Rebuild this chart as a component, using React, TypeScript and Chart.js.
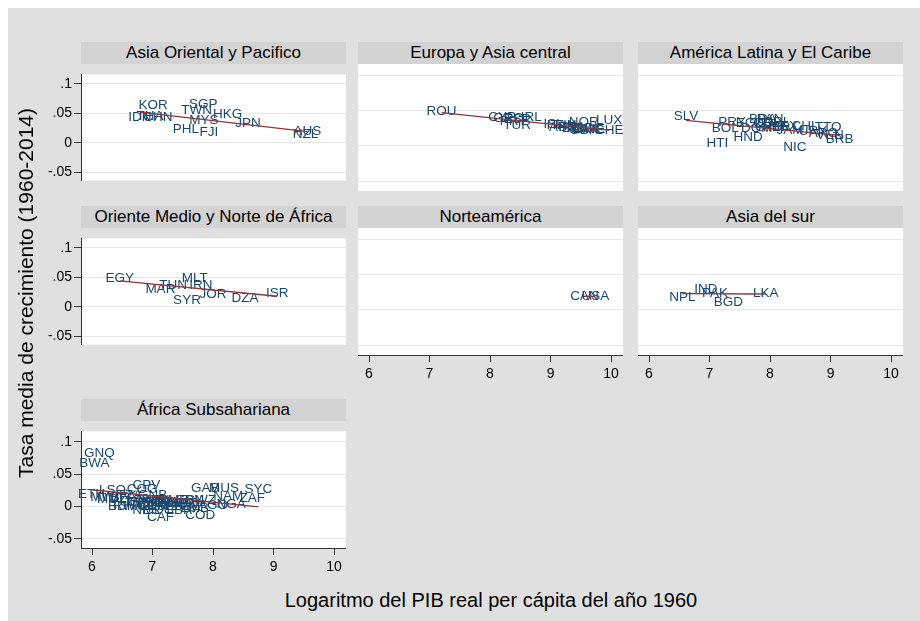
import React, { useEffect, useRef } from "react";
import { Chart, registerables } from "chart.js";
Chart.register(...registerables);

// ---------- axis ticks ----------
const xTickValues = [6, 7, 8, 9, 10];
const xTickLabels = ["6", "7", "8", "9", "10"];
const yTickValues = [-0.05, 0, 0.05, 0.1];
const yTickLabels = ["-.05", "0", ".05", ".1"];

// ---------- Asia Oriental y Pacifico ----------
const eapCodes = ["KOR", "IDN", "THA", "CHN", "SGP", "TWN", "MYS", "HKG", "PHL", "FJI", "JPN", "AUS", "NZL"];
const eapX = [7.01, 6.79, 6.96, 7.09, 7.84, 7.73, 7.85, 8.24, 7.55, 7.93, 8.58, 9.56, 9.53];
const eapY = [0.063, 0.044, 0.045, 0.044, 0.065, 0.055, 0.038, 0.049, 0.0225, 0.018, 0.034, 0.019, 0.014];
const eapFitX = [6.79, 9.56];
const eapFitY = [0.052, 0.019];

// ---------- Europa y Asia central ----------
const ecaCodes = ["ROU", "CYP", "GRC", "ESP", "PRT", "IRL", "TUR", "ISL", "ITA", "AUT", "FIN", "FRA", "BEL", "NLD", "GBR", "DNK", "SWE", "NOR", "LUX", "CHE"];
const ecaX = [7.2, 8.2, 8.3, 8.45, 8.38, 8.68, 8.45, 9.05, 9.1, 9.2, 9.25, 9.35, 9.4, 9.5, 9.55, 9.6, 9.65, 9.55, 9.97, 9.97];
const ecaY = [0.049, 0.04, 0.039, 0.038, 0.035, 0.04, 0.029, 0.03, 0.029, 0.027, 0.029, 0.026, 0.025, 0.025, 0.022, 0.024, 0.023, 0.033, 0.036, 0.022];
const ecaFitX = [7.2, 9.97];
const ecaFitY = [0.047, 0.022];

// ---------- América Latina y El Caribe ----------
const lacCodes = ["SLV", "HTI", "BOL", "PRY", "HND", "ECU", "DOM", "BRA", "COL", "PAN", "GTM", "CRI", "PER", "MEX", "JAM", "NIC", "CHL", "URY", "ARG", "TTO", "VEN", "BRB"];
const lacX = [6.61, 7.13, 7.26, 7.37, 7.64, 7.67, 7.78, 7.88, 7.95, 8.0, 8.0, 8.08, 8.11, 8.22, 8.33, 8.41, 8.58, 8.71, 8.88, 8.96, 8.99, 9.15];
const lacY = [0.042, 0.003, 0.025, 0.034, 0.012, 0.032, 0.025, 0.037, 0.032, 0.038, 0.027, 0.034, 0.026, 0.028, 0.022, -0.002, 0.028, 0.02, 0.018, 0.027, 0.015, 0.009];
const lacFitX = [6.61, 9.15];
const lacFitY = [0.036, 0.015];

// ---------- Oriente Medio y Norte de África ----------
const menaCodes = ["EGY", "MAR", "TUN", "SYR", "MLT", "IRN", "JOR", "DZA", "ISR"];
const menaX = [6.46, 7.13, 7.34, 7.57, 7.7, 7.8, 8.0, 8.53, 9.06];
const menaY = [0.049, 0.029, 0.037, 0.011, 0.049, 0.036, 0.022, 0.014, 0.023];
const menaFitX = [6.46, 9.06];
const menaFitY = [0.044, 0.018];

// ---------- Norteamérica ----------
const naCodes = ["CAN", "USA"];
const naX = [9.56, 9.74];
const naY = [0.019, 0.019];
const naFitX = [9.56, 9.74];
const naFitY = [0.0195, 0.019];

// ---------- Asia del sur ----------
const sasCodes = ["NPL", "IND", "PAK", "BGD", "LKA"];
const sasX = [6.55, 6.94, 7.09, 7.31, 7.93];
const sasY = [0.018, 0.029, 0.023, 0.011, 0.023];
const sasFitX = [6.55, 7.93];
const sasFitY = [0.023, 0.0225];

// ---------- África Subsahariana ----------
const ssaCodes = ["GNQ", "BWA", "ETH", "LSO", "MWI", "MOZ", "MLI", "BFA", "BDI", "RWA", "UGA", "TZA", "GIN", "NER", "TCD", "COM", "MDG", "TGO", "GMB", "KEN", "BEN", "GHA", "COG", "CPV", "GNB", "SEN", "SLE", "CAF", "CMR", "LBR", "CIV", "MRT", "ZWE", "ZMB", "SDN", "COD", "SWZ", "AGO", "NGA", "GAB", "MUS", "NAM", "ZAF", "SYC"];
const ssaX = [6.12, 6.04, 5.99, 6.34, 6.2, 6.33, 6.45, 6.52, 6.45, 6.6, 6.7, 6.62, 6.78, 6.9, 6.85, 7.0, 7.1, 6.95, 6.97, 7.05, 7.12, 7.2, 6.83, 6.9, 7.0, 7.3, 7.28, 7.13, 7.35, 7.45, 7.6, 7.5, 7.55, 7.7, 7.62, 7.79, 7.8, 8.0, 8.3, 7.87, 8.18, 8.25, 8.65, 8.75];
const ssaY = [0.082, 0.067, 0.019, 0.025, 0.014, 0.012, 0.013, 0.015, 0.0, 0.0, 0.007, 0.017, 0.007, -0.005, 0.002, 0.0, -0.005, 0.005, 0.01, 0.01, 0.006, 0.007, 0.026, 0.033, 0.018, 0.0, 0.005, -0.016, 0.01, -0.005, 0.003, 0.005, 0.0, -0.002, 0.01, -0.013, 0.01, 0.002, 0.003, 0.029, 0.028, 0.016, 0.013, 0.026];
const ssaFitX = [5.99, 8.75];
const ssaFitY = [0.026, -0.0005];

// ---------- texts ----------
const yAxisTitle = "Tasa media de crecimiento (1960-2014)";
const xAxisTitle = "Logaritmo del PIB real per cápita del año 1960";

type Panel = {
  title: string;
  codes: string[];
  xs: number[];
  ys: number[];
  fitX: number[];
  fitY: number[];
  col: number;
  row: number;
  showY: boolean;
  showX: boolean;
};

const panels: Panel[] = [
  { title: "Asia Oriental y Pacifico", codes: eapCodes, xs: eapX, ys: eapY, fitX: eapFitX, fitY: eapFitY, col: 0, row: 0, showY: true, showX: false },
  { title: "Europa y Asia central", codes: ecaCodes, xs: ecaX, ys: ecaY, fitX: ecaFitX, fitY: ecaFitY, col: 1, row: 0, showY: false, showX: false },
  { title: "América Latina y El Caribe", codes: lacCodes, xs: lacX, ys: lacY, fitX: lacFitX, fitY: lacFitY, col: 2, row: 0, showY: false, showX: false },
  { title: "Oriente Medio y Norte de África", codes: menaCodes, xs: menaX, ys: menaY, fitX: menaFitX, fitY: menaFitY, col: 0, row: 1, showY: true, showX: false },
  { title: "Norteamérica", codes: naCodes, xs: naX, ys: naY, fitX: naFitX, fitY: naFitY, col: 1, row: 1, showY: false, showX: true },
  { title: "Asia del sur", codes: sasCodes, xs: sasX, ys: sasY, fitX: sasFitX, fitY: sasFitY, col: 2, row: 1, showY: false, showX: true },
  { title: "África Subsahariana", codes: ssaCodes, xs: ssaX, ys: ssaY, fitX: ssaFitX, fitY: ssaFitY, col: 0, row: 2, showY: true, showX: true },
];

// ---------- layout / style ----------
const FONT = "'Liberation Sans', Arial, Helvetica, sans-serif";
const BG = "#e0e0e0";
const STRIP = "#d3d3d3";
const LABEL_COLOR = "#1a476f";
const FIT_COLOR = "#90353b";
const AXIS_COLOR = "#333333";
const GRID_COLOR = "#e6e6e6";

const colLeft = [81, 358, 638];
const colW = 265;
const stripTop = [42, 206, 399];
const stripH = 22;
const plotH = 127;
const yPad = 44;
const xPad = 30;
const X_MIN = 5.818;
const X_MAX = 10.198;
const Y_MIN = -0.0639;
const Y_MAX = 0.116;

const plotBgPlugin = {
  id: "plotBg",
  beforeDraw(chart: any) {
    const { ctx, chartArea } = chart;
    ctx.save();
    ctx.fillStyle = "#ffffff";
    ctx.fillRect(chartArea.left, chartArea.top, chartArea.right - chartArea.left, chartArea.bottom - chartArea.top);
    ctx.restore();
  },
};

function makeLabelPlugin(codes: string[]) {
  return {
    id: "codeLabels",
    beforeDatasetsDraw(chart: any) {
      const { ctx } = chart;
      const meta = chart.getDatasetMeta(0);
      ctx.save();
      ctx.font = `13.5px ${FONT}`;
      ctx.fillStyle = LABEL_COLOR;
      ctx.textAlign = "center";
      ctx.textBaseline = "middle";
      meta.data.forEach((el: any, i: number) => {
        ctx.fillText(codes[i], el.x, el.y);
      });
      ctx.restore();
    },
  };
}

function PanelChart({ p }: { p: Panel }) {
  const ref = useRef<HTMLCanvasElement | null>(null);
  const left = colLeft[p.col] - (p.showY ? yPad : 0);
  const top = stripTop[p.row] + stripH;
  const width = colW + (p.showY ? yPad : 0);
  const height = plotH + (p.showX ? xPad : 0);

  useEffect(() => {
    if (!ref.current) return;
    const points = p.xs.map((x, i) => ({ x, y: p.ys[i] }));
    const fit = p.fitX.map((x, i) => ({ x, y: p.fitY[i] }));
    const chart = new Chart(ref.current, {
      type: "scatter",
      data: {
        datasets: [
          { data: points, pointRadius: 0, pointHoverRadius: 0, showLine: false },
          { data: fit, showLine: true, borderColor: FIT_COLOR, borderWidth: 1.3, pointRadius: 0, fill: false },
        ],
      },
      options: {
        animation: false,
        responsive: false,
        maintainAspectRatio: false,
        devicePixelRatio: 1,
        layout: { padding: 0 },
        events: [],
        plugins: { legend: { display: false }, tooltip: { enabled: false }, title: { display: false } },
        scales: {
          x: {
            type: "linear",
            display: p.showX,
            min: X_MIN,
            max: X_MAX,
            afterBuildTicks: (s: any) => {
              s.ticks = xTickValues.map((v) => ({ value: v }));
            },
            afterFit: (s: any) => {
              s.height = p.showX ? xPad : 0;
            },
            ticks: {
              display: p.showX,
              autoSkip: false,
              maxRotation: 0,
              padding: 4,
              color: "#000",
              font: { family: FONT, size: 14 },
              callback: (_v: any, i: number) => xTickLabels[i],
            },
            grid: { drawOnChartArea: false, drawTicks: true, tickLength: 7, tickColor: AXIS_COLOR, color: AXIS_COLOR },
            border: { display: true, color: AXIS_COLOR, width: 1 },
          },
          y: {
            type: "linear",
            display: true,
            min: Y_MIN,
            max: Y_MAX,
            afterBuildTicks: (s: any) => {
              s.ticks = yTickValues.map((v) => ({ value: v }));
            },
            afterFit: (s: any) => {
              s.width = p.showY ? yPad : 0;
            },
            ticks: {
              display: p.showY,
              autoSkip: false,
              padding: 2,
              color: "#000",
              font: { family: FONT, size: 14 },
              callback: (_v: any, i: number) => yTickLabels[i],
            },
            grid: {
              drawOnChartArea: true,
              color: GRID_COLOR,
              lineWidth: 1,
              drawTicks: p.showY,
              tickLength: 7,
              tickColor: AXIS_COLOR,
            },
            border: { display: p.showY, color: AXIS_COLOR, width: 1 },
          },
        },
      },
      plugins: [plotBgPlugin, makeLabelPlugin(p.codes)],
    } as any);
    return () => chart.destroy();
  }, []);

  return (
    <>
      <div
        style={{
          position: "absolute",
          left: colLeft[p.col],
          top: stripTop[p.row],
          width: colW,
          height: stripH,
          background: STRIP,
          color: "#000",
          fontFamily: FONT,
          fontSize: 17,
          lineHeight: `${stripH}px`,
          textAlign: "center",
          whiteSpace: "nowrap",
        }}
      >
        {p.title}
      </div>
      <canvas
        ref={ref}
        width={width}
        height={height}
        style={{ position: "absolute", left, top, width, height }}
      />
    </>
  );
}

export default function App() {
  return (
    <div style={{ position: "absolute", left: 8, top: 8, width: 912, height: 613, background: BG, overflow: "hidden" }}>
      <div style={{ position: "absolute", left: -8, top: -8, width: 920, height: 621 }}>
        {panels.map((p, i) => (
          <PanelChart key={i} p={p} />
        ))}
        <div
          style={{
            position: "absolute",
            left: 26,
            top: 293,
            transform: "translate(-50%, -50%) rotate(-90deg)",
            whiteSpace: "nowrap",
            fontFamily: FONT,
            fontSize: 21,
            color: "#000",
          }}
        >
          {yAxisTitle}
        </div>
        <div
          style={{
            position: "absolute",
            left: 0,
            width: 982,
            top: 588,
            height: 24,
            lineHeight: "24px",
            textAlign: "center",
            whiteSpace: "nowrap",
            fontFamily: FONT,
            fontSize: 20,
            color: "#000",
          }}
        >
          {xAxisTitle}
        </div>
      </div>
    </div>
  );
}
